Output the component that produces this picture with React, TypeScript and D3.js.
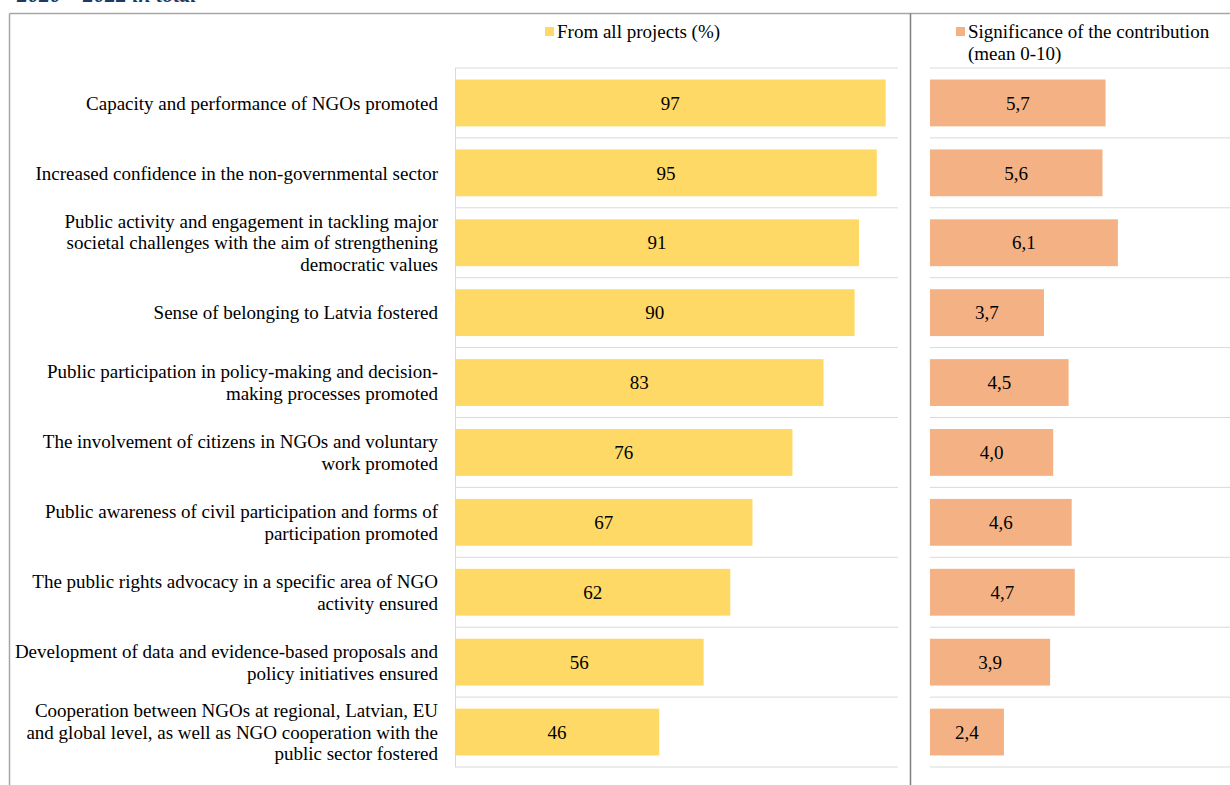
import React from "react";
import * as d3 from "d3";

const categories: string[][] = [
  ["Capacity and performance of NGOs promoted"],
  ["Increased confidence in the non-governmental sector"],
  ["Public activity and engagement in tackling major", "societal challenges with the aim of strengthening", "democratic values"],
  ["Sense of belonging to Latvia fostered"],
  ["Public participation in policy-making and decision-", "making processes promoted"],
  ["The involvement of citizens in NGOs and voluntary", "work promoted"],
  ["Public awareness of civil participation and forms of", "participation promoted"],
  ["The public rights advocacy in a specific area of NGO", "activity ensured"],
  ["Development of data and evidence-based proposals and", "policy initiatives ensured"],
  ["Cooperation between NGOs at regional, Latvian, EU", "and global level, as well as NGO cooperation with the", "public sector fostered"],
];
const shareAll: number[] = [97, 95, 91, 90, 83, 76, 67, 62, 56, 46];
const significance: number[] = [5.7, 5.6, 6.1, 3.7, 4.5, 4.0, 4.6, 4.7, 3.9, 2.4];
const legendLeft = "From all projects (%)";
const legendRight = ["Significance of the contribution", "(mean 0-10)"];
const title = "2020 – 2022 in total";

const W = 1230;
const H = 785;
const FONT = "'Liberation Serif', 'Times New Roman', serif";
const FS = 19;
const YELLOW = "#FFD966";
const ORANGE = "#F4B183";
const GRID = "#D9D9D9";

export default function App() {
  const idx = categories.map((_, i) => String(i));
  const y = d3.scaleBand().domain(idx).range([68, 767]).paddingInner(0.33).paddingOuter(0.165);
  const rowY = d3.scaleBand().domain(idx).range([68, 767]);
  const xL = d3.scaleLinear().domain([0, 100]).range([455, 899]);
  const xR = d3.scaleLinear().domain([0, 10]).range([930, 1238]);
  const fmt = (v: number) => v.toFixed(1).replace(".", ",");
  const gridYs = d3.range(categories.length + 1).map((i) => 68 + i * rowY.step());

  return (
    <svg width={W} height={H} style={{ position: "absolute", left: 0, top: 0, display: "block" }} fontFamily={FONT}>
      <rect x={0} y={0} width={W} height={H} fill="#fff" />
      <text x={17} y={2} fontSize={22} fontWeight="bold" fontStyle="italic" fill="#1F3864">{title}</text>
      {/* frame */}
      <line x1={9.5} y1={13.5} x2={W} y2={13.5} stroke="#A6A6A6" strokeWidth={1.5} />
      <line x1={9.5} y1={13.5} x2={9.5} y2={H} stroke="#A6A6A6" strokeWidth={1.5} />
      <line x1={910.5} y1={13.5} x2={910.5} y2={H} stroke="#7F7F7F" strokeWidth={1.5} />

      {/* legends */}
      <rect x={545} y={27} width={9} height={9} fill={YELLOW} />
      <text x={557} y={38} fontSize={FS} fill="#000">{legendLeft}</text>
      <rect x={956} y={27} width={9} height={9} fill={ORANGE} />
      {legendRight.map((t, i) => (
        <text key={i} x={968} y={38 + i * 22} fontSize={FS} fill="#000">{t}</text>
      ))}

      {/* left grid */}
      {gridYs.map((gy, i) => (
        <line key={"gl" + i} x1={455} x2={898} y1={gy} y2={gy} stroke={GRID} strokeWidth={1} />
      ))}
      <line x1={455.5} x2={455.5} y1={68} y2={767} stroke={GRID} strokeWidth={1} />
      {/* right grid */}
      {gridYs.map((gy, i) => (
        <line key={"gr" + i} x1={930} x2={W} y1={gy} y2={gy} stroke={GRID} strokeWidth={1} />
      ))}

      {/* left bars */}
      {shareAll.map((v, i) => {
        const by = y(String(i))!;
        const bh = y.bandwidth();
        return (
          <g key={"bl" + i}>
            <rect x={xL(0)} y={by} width={xL(v) - xL(0)} height={bh} fill={YELLOW} />
            <text x={(xL(0) + xL(v)) / 2} y={by + bh / 2} dy="0.35em" textAnchor="middle" fontSize={FS} fill="#000">{v}</text>
          </g>
        );
      })}
      {/* right bars */}
      {significance.map((v, i) => {
        const by = y(String(i))!;
        const bh = y.bandwidth();
        return (
          <g key={"br" + i}>
            <rect x={xR(0)} y={by} width={xR(v) - xR(0)} height={bh} fill={ORANGE} />
            <text x={(xR(0) + xR(v)) / 2} y={by + bh / 2} dy="0.35em" textAnchor="middle" fontSize={FS} fill="#000">{fmt(v)}</text>
          </g>
        );
      })}

      {/* category labels */}
      {categories.map((lines, i) => {
        const cy = y(String(i))! + y.bandwidth() / 2;
        const lh = 21.5;
        const start = cy - ((lines.length - 1) * lh) / 2;
        return (
          <text key={"c" + i} textAnchor="end" fontSize={FS} fill="#000">
            {lines.map((l, j) => (
              <tspan key={j} x={438} y={start + j * lh} dy="0.35em">{l}</tspan>
            ))}
          </text>
        );
      })}
    </svg>
  );
}
